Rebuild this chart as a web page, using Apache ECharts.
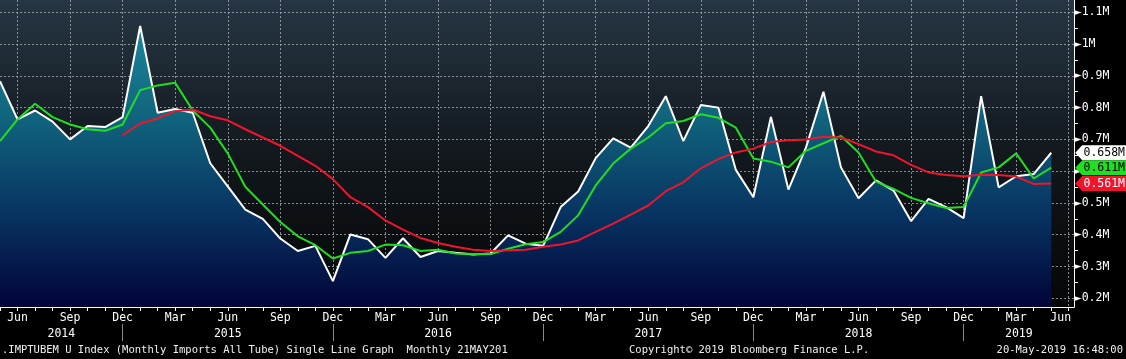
<!DOCTYPE html>
<html><head><meta charset="utf-8">
<script src="https://cdn.jsdelivr.net/npm/echarts@6/dist/echarts.min.js"></script>
<style>html,body{margin:0;padding:0;background:#000;}#c{width:1126px;height:359px;}</style>
</head><body><div id="c"></div>
<script>
// Month categories (index 0 = May 2014)
const months = [
  'May 2014','Jun 2014','Jul 2014','Aug 2014','Sep 2014','Oct 2014','Nov 2014','Dec 2014',
  'Jan 2015','Feb 2015','Mar 2015','Apr 2015','May 2015','Jun 2015','Jul 2015','Aug 2015','Sep 2015','Oct 2015','Nov 2015','Dec 2015',
  'Jan 2016','Feb 2016','Mar 2016','Apr 2016','May 2016','Jun 2016','Jul 2016','Aug 2016','Sep 2016','Oct 2016','Nov 2016','Dec 2016',
  'Jan 2017','Feb 2017','Mar 2017','Apr 2017','May 2017','Jun 2017','Jul 2017','Aug 2017','Sep 2017','Oct 2017','Nov 2017','Dec 2017',
  'Jan 2018','Feb 2018','Mar 2018','Apr 2018','May 2018','Jun 2018','Jul 2018','Aug 2018','Sep 2018','Oct 2018','Nov 2018','Dec 2018',
  'Jan 2019','Feb 2019','Mar 2019','Apr 2019','May 2019','Jun 2019'
];
// Monthly imports (millions)
const imports = [
  0.883,0.763,0.791,0.756,0.700,0.742,0.739,0.770,1.057,0.784,
  0.796,0.784,0.625,0.552,0.479,0.450,0.388,0.349,0.365,0.254,
  0.401,0.386,0.327,0.389,0.330,0.349,0.343,0.338,0.341,0.398,
  0.372,0.365,0.487,0.536,0.641,0.703,0.674,0.742,0.836,0.695,
  0.808,0.800,0.604,0.518,0.771,0.542,0.674,0.850,0.612,0.515,
  0.571,0.539,0.443,0.513,0.487,0.452,0.836,0.549,0.584,0.591,
  0.658
];
// Short moving average (green)
const avgShort = [
  0.695,0.763,0.812,0.770,0.747,0.732,0.727,0.747,0.855,0.870,
  0.878,0.791,0.737,0.656,0.551,0.495,0.440,0.395,0.367,0.325,
  0.343,0.349,0.369,0.367,0.349,0.353,0.341,0.339,0.339,0.356,
  0.370,0.377,0.409,0.461,0.555,0.624,0.671,0.706,0.751,0.758,
  0.779,0.768,0.737,0.640,0.630,0.612,0.664,0.688,0.711,0.659,
  0.567,0.544,0.516,0.499,0.484,0.487,0.596,0.612,0.656,0.577,
  0.611
];
// Long moving average (red)
const avgLong = [
  null,null,null,null,null,null,null,0.713,0.750,0.766,
  0.789,0.794,0.773,0.760,0.732,0.706,0.680,0.648,0.617,0.575,
  0.518,0.487,0.445,0.416,0.390,0.374,0.362,0.353,0.349,0.351,
  0.353,0.362,0.369,0.382,0.409,0.435,0.463,0.492,0.537,0.565,
  0.609,0.638,0.659,0.671,0.692,0.697,0.700,0.708,0.706,0.685,
  0.662,0.650,0.620,0.596,0.588,0.584,0.589,0.588,0.583,0.560,
  0.561
];
const yMajor = [0.2,0.3,0.4,0.5,0.6,0.7,0.8,0.9,1.0,1.1];
const yMinor = [0.15,0.25,0.35,0.45,0.55,0.65,0.75,0.85,0.95,1.05];
const years = ['2014','2015','2016','2017','2018','2019'];

const XMAX = 61.3, YMIN = 0.1726, YMAX = 1.1387;
const FONT = 'DejaVu Sans Mono';
const GRIDC = 'rgba(165,170,175,0.8)';

const monthIdx = months.map((m, i) => i);
const quarterIdx = monthIdx.filter(i => /^(Mar|Jun|Sep|Dec)/.test(months[i]));
const decIdx = monthIdx.filter(i => /^Dec/.test(months[i]));
const bounds = [0].concat(decIdx, [XMAX]);
const yearCenters = years.map((y, k) => (bounds[k] + bounds[k + 1]) / 2);

const toPairs = arr => arr.map((v, i) => [i, v]);
const last = arr => arr[arr.length - 1];

function tag(arr, fill, txt) {
  const v = last(arr);
  return {
    silent: true,
    symbol: 'path://M0,7.5 L7,0 L52,0 L52,15 L7,15 Z',
    symbolSize: [52, 15],
    symbolOffset: [50, 0],
    itemStyle: {color: fill},
    label: {show: true, position: 'inside', offset: [3, 0], color: txt, fontFamily: FONT, fontSize: 11.5,
      formatter: () => v.toFixed(3) + 'M'},
    data: [{coord: [arr.length - 1, v], value: v}]
  };
}

const gridRect = {left: 0, right: 52, top: 0, bottom: 52};
const chart = echarts.init(document.getElementById('c'), null, {renderer: 'canvas'});
chart.setOption({
  backgroundColor: '#000',
  animation: false,
  grid: [
    Object.assign({show: true, borderWidth: 0, outerBoundsMode: 'none',
      backgroundColor: {type: 'linear', x: 0, y: 0, x2: 0, y2: 1, colorStops: [
        {offset: 0, color: '#263644'}, {offset: 0.5, color: '#12181d'}, {offset: 1, color: '#050607'}]}}, gridRect),
    Object.assign({show: false, outerBoundsMode: 'none'}, gridRect)
  ],
  xAxis: [
    {type: 'value', gridIndex: 0, min: 0, max: XMAX, position: 'bottom',
      axisLine: {show: true, onZero: false, lineStyle: {color: '#fff', width: 1}},
      axisTick: {show: true, customValues: quarterIdx, length: 4, lineStyle: {color: '#fff'}},
      axisLabel: {customValues: quarterIdx, color: '#fff', fontFamily: FONT, fontSize: 11.5, margin: 5,
        formatter: v => {
          const i = Math.round(v), s = months[i].slice(0, 3);
          return i === months.length - 1 ? '{r|' + s + '}' : s;
        },
        rich: {r: {color: '#fff', fontFamily: FONT, fontSize: 11.5, padding: [0, 16, 0, 0]}}},
      splitLine: {show: true, lineStyle: {color: GRIDC, type: [2, 2], width: 1}}},
    {type: 'value', gridIndex: 0, min: 0, max: XMAX, position: 'bottom',
      axisLine: {show: false, onZero: false},
      axisTick: {show: true, customValues: monthIdx, length: 4, lineStyle: {color: '#fff'}},
      axisLabel: {show: false}, splitLine: {show: false}},
    {type: 'value', gridIndex: 0, min: 0, max: XMAX, position: 'bottom', offset: 17,
      axisLine: {show: false, onZero: false},
      axisTick: {show: true, customValues: decIdx, length: 17, lineStyle: {color: '#8a8a8a'}},
      axisLabel: {customValues: yearCenters, color: '#fff', fontFamily: FONT, fontSize: 11.5, margin: 4,
        formatter: v => { let best = 0; yearCenters.forEach((c, k) => { if (Math.abs(c - v) < Math.abs(yearCenters[best] - v)) best = k; }); return years[best]; }},
      splitLine: {show: false}},
    {type: 'value', gridIndex: 1, min: 0, max: XMAX, show: false}
  ],
  yAxis: [
    {type: 'value', gridIndex: 0, position: 'right', min: YMIN, max: YMAX,
      axisLine: {show: true, onZero: false, lineStyle: {color: '#fff', width: 1}},
      axisTick: {show: true, customValues: yMajor, length: 1, lineStyle: {color: '#fff'}},
      axisLabel: {customValues: yMajor, margin: 0,
        formatter: v => '{a|\u25BA}{b|' + (+v.toFixed(2)) + 'M}',
        rich: {a: {fontFamily: 'DejaVu Sans', fontSize: 10, color: '#fff'},
               b: {fontFamily: FONT, fontSize: 11.5, color: '#fff', padding: [0, 0, 0, 0]}}},
      splitLine: {show: true, lineStyle: {color: GRIDC, type: [2, 2], width: 1}}},
    {type: 'value', gridIndex: 1, position: 'right', min: YMIN, max: YMAX,
      axisLine: {show: false, onZero: false},
      axisTick: {show: true, customValues: yMinor, length: 4, lineStyle: {color: '#fff'}},
      axisLabel: {show: false}, splitLine: {show: false}}
  ],
  series: [
    {type: 'line', name: 'imports', data: toPairs(imports), xAxisIndex: 0, yAxisIndex: 0,
      symbol: 'none', z: 2, lineStyle: {color: '#ffffff', width: 2},
      areaStyle: {origin: 'start', opacity: 1, color: {type: 'linear', x: 0, y: 0, x2: 0, y2: 1, colorStops: [
        {offset: 0, color: '#1a879b'}, {offset: 0.3, color: '#11677f'}, {offset: 0.65, color: '#083663'}, {offset: 1, color: '#020438'}]}},
      markPoint: tag(imports, '#ffffff', '#000')},
    {type: 'line', name: 'short', data: toPairs(avgShort), xAxisIndex: 0, yAxisIndex: 0, symbol: 'none', z: 3,
      lineStyle: {color: '#22dd22', width: 2}, markPoint: tag(avgShort, '#22dd22', '#000')},
    {type: 'line', name: 'long', data: toPairs(avgLong), xAxisIndex: 0, yAxisIndex: 0, symbol: 'none', z: 4,
      lineStyle: {color: '#f0142d', width: 2}, markPoint: tag(avgLong, '#f0142d', '#fff')}
  ],
  graphic: [
    {type: 'text', left: 2, top: 345, style: {text: '.IMPTUBEM U Index (Monthly Imports All Tube) Single Line Graph  Monthly 21MAY201', fill: '#f0f0f0', font: '10.5px "DejaVu Sans Mono"'}},
    {type: 'text', left: 629, top: 345, style: {text: 'Copyright\u00A9 2019 Bloomberg Finance L.P.', fill: '#f0f0f0', font: '10.5px "DejaVu Sans Mono"'}},
    {type: 'text', right: 3, top: 345, style: {text: '20-May-2019 16:48:00', fill: '#f0f0f0', font: '10.5px "DejaVu Sans Mono"'}}
  ]
});
</script></body></html>
